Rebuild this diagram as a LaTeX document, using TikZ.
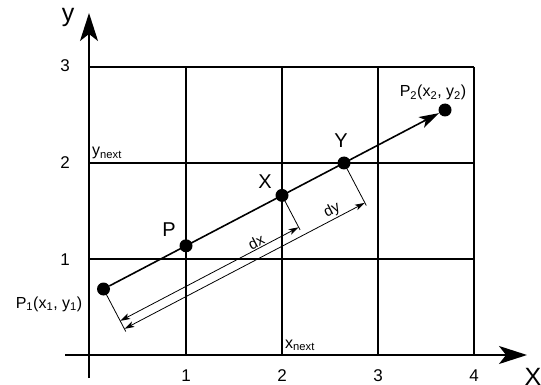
\documentclass[tikz,border=0pt]{standalone}
\usepackage{fontspec}
\setmainfont{Liberation Sans}
\usetikzlibrary{calc,arrows.meta}
\begin{document}
\begin{tikzpicture}[x=1pt,y=-1pt,
  gridline/.style={line width=1.3pt},
  axisline/.style={line width=1.6pt,-{Stealth[length=28pt,width=18pt,inset=7pt]}},
  dot/.style={circle,fill,inner sep=0pt,minimum size=13pt},
  dimline/.style={line width=0.8pt},
  dimarrow/.style={line width=0.8pt,{Stealth[length=10pt,width=6pt,inset=2.5pt]}-{Stealth[length=10pt,width=6pt,inset=2.5pt]}},
  txt/.style={inner sep=0pt,anchor=base},
  big/.style={txt,font=\fontsize{25}{30}\selectfont},
  ptlbl/.style={txt,font=\fontsize{20}{24}\selectfont},
  tick/.style={txt,font=\fontsize{17}{20}\selectfont},
  coord/.style={txt,font=\fontsize{16}{19}\selectfont},
  dimlbl/.style={inner sep=1pt,font=\fontsize{15}{18}\selectfont,sloped,above}
]
\useasboundingbox (0,0) rectangle (541,385);
% grid
\foreach \x in {186,282,378,474} \draw[gridline] (\x,67) -- (\x,355);
\foreach \y in {67,163,259} \draw[gridline] (89,\y) -- (474,\y);
% axes
\draw[axisline] (65,355) -- (527,355);
\draw[axisline] (89,378) -- (89,13);
\node[big] (ylab) at (68,21.3) {y};
\node[big] (xlab) at (533,385) {X};
% ticks
\node[tick] (t3) at (65,72) {3};
\node[tick] (t2) at (65,168) {2};
\node[tick] (t1) at (65,265) {1};
\node[tick] (b1) at (186,381) {1};
\node[tick] (b2) at (282,381) {2};
\node[tick] (b3) at (378,381) {3};
\node[tick] (b4) at (474,381) {4};
% next labels
\node[coord,anchor=base west] (ynext) at (92,156) {y\textsubscript{next}};
\node[coord,anchor=base west] (xnext) at (285,348) {x\textsubscript{next}};
% points
\node[dot] (P1) at (103.5,289) {};
\node[dot] (P) at (186,245.8) {};
\node[dot] (X) at (282,195.4) {};
\node[dot] (Y) at (344,163) {};
\node[dot] (P2) at (445,110) {};
\draw[line width=1.6pt,-{Stealth[length=20pt,width=12pt,inset=5pt]}] (P1) -- (P2);
% point labels
\node[ptlbl] (Plab) at (169,236.5) {P};
\node[ptlbl] (Xlab) at (265,189) {X};
\node[ptlbl] (Ylab) at (341,148) {Y};
\node[coord] (P2lab) at (433,96.7) {P\textsubscript{2}(x\textsubscript{2}, y\textsubscript{2})};
\node[coord] (P1lab) at (49,308) {P\textsubscript{1}(x\textsubscript{1}, y\textsubscript{1})};
% perpendicular extension lines
\coordinate (e1) at ($(P1.center)!48pt!-90:(P2.center)$);
\coordinate (eX) at ($(X.center)!39pt!-90:(P2.center)$);
\coordinate (eY) at ($(Y.center)!48pt!-90:(P2.center)$);
\draw[dimline] (P1.center) -- (e1);
\draw[dimline] (X.center) -- (eX);
\draw[dimline] (Y.center) -- (eY);
% dimension arrows
\coordinate (dxa) at ($(P1.center)!36pt!-90:(P2.center)$);
\coordinate (dxb) at ($(X.center)!36pt!-90:(P2.center)$);
\coordinate (dya) at ($(P1.center)!45pt!-90:(P2.center)$);
\coordinate (dyb) at ($(Y.center)!45pt!-90:(P2.center)$);
\draw[dimarrow] (dxa) -- node[dimlbl,pos=0.78] {dx} (dxb);
\draw[dimarrow] (dya) -- node[dimlbl,pos=0.88] {dy} (dyb);
\end{tikzpicture}
\end{document}
